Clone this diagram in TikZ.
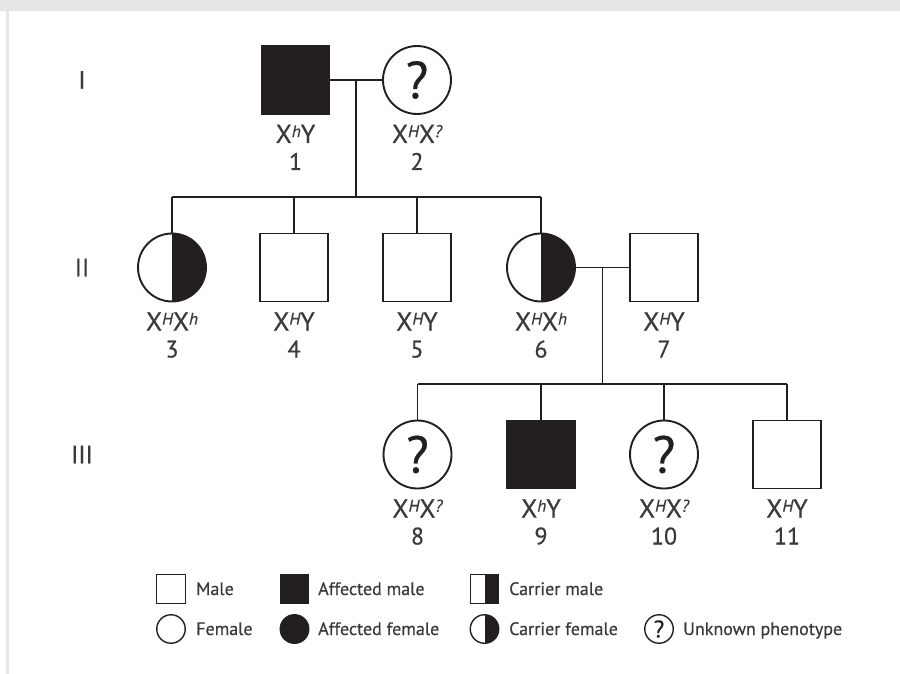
\documentclass[tikz,border=0pt]{standalone}
\usepackage{fontspec}
\setmainfont{PT Sans}[FakeBold=0.45]
\usetikzlibrary{calc}
\definecolor{ink}{HTML}{231F20}
\definecolor{txt}{HTML}{3A3A3C}
\definecolor{frame}{HTML}{E6E7E8}

% italic superscript allele, top aligned with the capitals
\newcommand\allele[1]{\raisebox{5.8pt}{\fontsize{17}{17}\selectfont\itshape #1}}

\tikzset{
  link/.style={line width=1.9pt, draw=ink},
  ind/.style={link, fill=white, minimum size=68pt, inner sep=0pt, outer sep=0pt,
              font=\fontsize{52}{52}\selectfont, text=ink},
  male/.style={ind, rectangle},
  female/.style={ind, circle},
  affected/.style={fill=ink},
  carrier/.style={path picture={\fill[ink] (path picture bounding box.north)
                   rectangle (path picture bounding box.south east);}},
  keyind/.style={ind, minimum size=28.5pt, line width=1.4pt, font=\fontsize{24}{24}\selectfont},
  keymale/.style={keyind, rectangle},
  keyfemale/.style={keyind, circle},
  geno/.style={anchor=base, inner sep=0pt, text=txt, font=\fontsize{26}{26}\selectfont},
  idnum/.style={anchor=base, inner sep=0pt, text=txt, font=\fontsize{24}{24}\selectfont},
  gen/.style={inner sep=0pt, text=txt, font=\fontsize{25}{25}\selectfont},
  keytext/.style={anchor=base west, inner sep=0pt, text=txt, font=\fontsize{18}{18}\selectfont},
}

\begin{document}
\begin{tikzpicture}[x=1pt, y=-1pt]
  \useasboundingbox (0,0) rectangle (900,674);
  % page frame
  \fill[frame] (0,0) rectangle (900,10.7);
  \fill[frame] (6,10.7) rectangle (9,674);

  % generation numerals
  \node[gen] (gI)   at (82,80)    {I};
  \node[gen] (gII)  at (82,267.5) {II};
  \node[gen] (gIII) at (82,454.5) {III};

  % generation I
  \node[male, affected] (p1) at (295.5,80) {};
  \node[female]         (p2) at (417,80)   {?};

  % generation II
  \node[female, carrier] (p3) at (172,267.5) {};
  \node[male]            (p4) at (294,267.5) {};
  \node[male]            (p5) at (417,267.5) {};
  \node[female, carrier] (p6) at (541,267.5) {};
  \node[male]            (p7) at (664,267.5) {};

  % generation III
  \node[female]          (p8)  at (417.5,454.5) {?};
  \node[male, affected]  (p9)  at (541,454.5)   {};
  \node[female]          (p10) at (664,454.5)   {?};
  \node[male]            (p11) at (787,454.5)   {};

  % genotypes and identifiers
  \foreach \p/\g/\n in {p1/X\allele{h}Y/1, p2/X\allele{H}X\allele{?}/2,
      p3/X\allele{H}X\allele{h}/3, p4/X\allele{H}Y/4, p5/X\allele{H}Y/5,
      p6/X\allele{H}X\allele{h}/6, p7/X\allele{H}Y/7,
      p8/X\allele{H}X\allele{?}/8, p9/X\allele{h}Y/9,
      p10/X\allele{H}X\allele{?}/10, p11/X\allele{H}Y/11} {
    \node[geno]  (g\p) at ($(\p.center)+(0,63)$) {\g};
    \node[idnum] (n\p) at ($(\p.center)+(0,90)$) {\n};
  }

  % matings and descent lines
  \draw[link] (p1.east) -- (p2.west);
  \coordinate (m12) at ($(p1.east)!0.5!(p2.west)$);
  \coordinate (s12) at ($(m12)+(0,117)$);
  \draw[link] (m12) -- (s12);
  \draw[link] (p3.north |- s12) -- (p6.north |- s12);
  \foreach \c in {p3,p4,p5,p6} \draw[link] (\c.north |- s12) -- (\c.north);

  \draw[link] (p6.east) -- (p7.west);
  \coordinate (m67) at ($(p6.east)!0.5!(p7.west)$);
  \coordinate (s67) at ($(m67)+(0,116.5)$);
  \draw[link] (m67) -- (s67);
  \draw[link] (p8.north |- s67) -- (p11.north |- s67);
  \foreach \c in {p8,p9,p10,p11} \draw[link] (\c.north |- s67) -- (\c.north);

  % key
  \node[keymale]             (k1) at (171,589)   {};
  \node[keytext] (t1) at (196,595) {Male};
  \node[keymale, affected]   (k2) at (294.5,589) {};
  \node[keytext] (t2) at (318,595) {Affected male};
  \node[keymale, carrier]    (k3) at (484.5,589) {};
  \node[keytext] (t3) at (509,595) {Carrier male};

  \node[keyfemale]           (k4) at (171,629)   {};
  \node[keytext] (t4) at (196,635) {Female};
  \node[keyfemale, affected] (k5) at (294.5,629) {};
  \node[keytext] (t5) at (318,635) {Affected female};
  \node[keyfemale, carrier]  (k6) at (484.5,629) {};
  \node[keytext] (t6) at (509,635) {Carrier female};
  \node[keyfemale, draw=ink] (k7) at (659,629)   {?};
  \node[keytext] (t7) at (683,635) {Unknown phenotype};
\end{tikzpicture}
\end{document}
